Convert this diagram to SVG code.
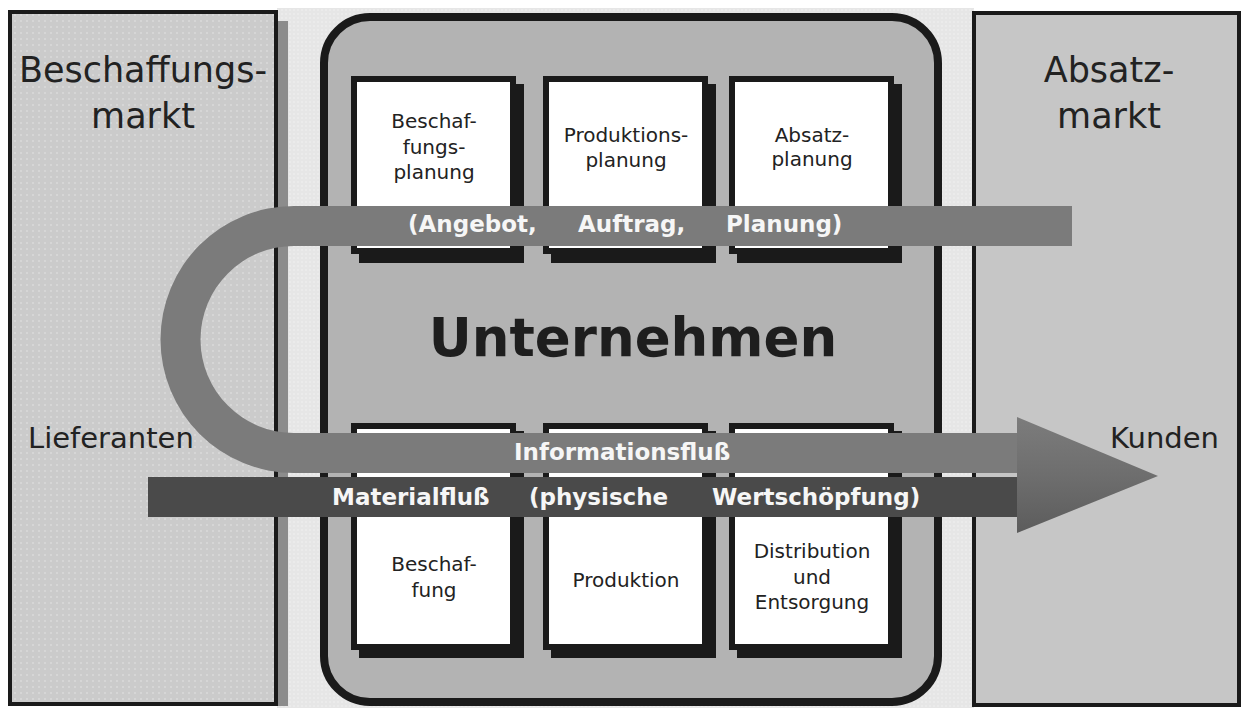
<svg xmlns="http://www.w3.org/2000/svg" width="1243" height="708" viewBox="0 0 1243 708">
  <defs>
    <style>
      .panel { stroke: #1a1a1a; stroke-width: 4; }
      .big { font-family: "DejaVu Sans", Verdana, sans-serif; font-size: 35px; fill: #222; text-anchor: middle; }
      .side { font-family: "DejaVu Sans", Verdana, sans-serif; font-size: 29px; fill: #222; }
      .box { fill: #ffffff; stroke: #1a1a1a; stroke-width: 6; }
      .shadow { fill: #1a1a1a; }
      .btxt { font-family: "DejaVu Sans", Verdana, sans-serif; font-size: 20px; fill: #222; text-anchor: middle; }
      .flow { font-family: "DejaVu Sans", Verdana, sans-serif; font-size: 23px; font-weight: bold; fill: #f6f6f6; }
      .title { font-family: "DejaVu Sans", Verdana, sans-serif; font-size: 53px; font-weight: bold; fill: #1e1e1e; text-anchor: middle; }
    </style>
    <pattern id="dots" width="6" height="6" patternUnits="userSpaceOnUse">
      <rect width="6" height="6" fill="#cbcbcb"/>
      <circle cx="3" cy="3" r="0.8" fill="#e4e4e4"/>
    </pattern>
    <pattern id="lightdots" width="4" height="4" patternUnits="userSpaceOnUse">
      <rect width="4" height="4" fill="#e6e6e6"/>
      <circle cx="2" cy="2" r="0.7" fill="#f6f6f6"/>
    </pattern>
    <linearGradient id="headFill" x1="0" y1="0" x2="0" y2="1">
      <stop offset="0" stop-color="#7c7c7c"/>
      <stop offset="0.5" stop-color="#6e6e6e"/>
      <stop offset="1" stop-color="#5c5c5c"/>
    </linearGradient>
  </defs>

  <!-- page and middle strip -->
  <rect x="0" y="0" width="1243" height="708" fill="#ffffff"/>
  <rect x="277" y="8" width="697" height="700" fill="url(#lightdots)"/>

  <!-- supply market -->
  <g id="beschaffungsmarkt">
    <rect x="278" y="21" width="10" height="685" fill="#8c8c8c"/>
    <rect class="panel" x="10" y="12" width="266" height="692" fill="url(#dots)"/>
    <text class="big" x="143" y="82">Beschaffungs-</text>
    <text class="big" x="143" y="128">markt</text>
    <text class="side" x="28" y="448">Lieferanten</text>
  </g>

  <!-- sales market -->
  <g id="absatzmarkt">
    <rect class="panel" x="974" y="13" width="265" height="692" fill="#c6c6c6"/>
    <text class="big" x="1109" y="82">Absatz-</text>
    <text class="big" x="1109" y="128">markt</text>
    <text class="side" x="1110" y="448">Kunden</text>
  </g>

  <!-- enterprise frame -->
  <g id="unternehmen">
    <rect x="324" y="17" width="614" height="685" rx="46" ry="46" fill="#b3b3b3" stroke="#1a1a1a" stroke-width="8"/>
    <text class="title" x="633" y="356">Unternehmen</text>
  </g>

  <!-- planning functions -->
  <g id="beschaffungsplanung">
    <rect class="shadow" x="359" y="84" width="165" height="179"/>
    <rect class="box" x="354" y="79" width="159" height="172"/>
    <text class="btxt" x="434" y="128">Beschaf-</text>
    <text class="btxt" x="434" y="154">fungs-</text>
    <text class="btxt" x="434" y="179">planung</text>
  </g>
  <g id="produktionsplanung">
    <rect class="shadow" x="551" y="84" width="165" height="179"/>
    <rect class="box" x="546" y="79" width="159" height="172"/>
    <text class="btxt" x="626" y="142">Produktions-</text>
    <text class="btxt" x="626" y="167">planung</text>
  </g>
  <g id="absatzplanung">
    <rect class="shadow" x="737" y="84" width="165" height="179"/>
    <rect class="box" x="732" y="79" width="159" height="172"/>
    <text class="btxt" x="812" y="142">Absatz-</text>
    <text class="btxt" x="812" y="166">planung</text>
  </g>

  <!-- operative functions -->
  <g id="beschaffung">
    <rect class="shadow" x="359" y="431" width="165" height="227"/>
    <rect class="box" x="354" y="426" width="159" height="221"/>
    <text class="btxt" x="434" y="571">Beschaf-</text>
    <text class="btxt" x="434" y="597">fung</text>
  </g>
  <g id="produktion">
    <rect class="shadow" x="551" y="431" width="165" height="227"/>
    <rect class="box" x="546" y="426" width="159" height="221"/>
    <text class="btxt" x="626" y="587">Produktion</text>
  </g>
  <g id="distribution">
    <rect class="shadow" x="737" y="431" width="165" height="227"/>
    <rect class="box" x="732" y="426" width="159" height="221"/>
    <text class="btxt" x="812" y="558">Distribution</text>
    <text class="btxt" x="812" y="584">und</text>
    <text class="btxt" x="812" y="609">Entsorgung</text>
  </g>

  <!-- flows -->
  <g id="connectors">
    <!-- information flow: U-turn band -->
    <path d="M1072,206 H294 A133.5,133.5 0 0 0 294,473 H1018 V433 H294 A93.5,93.5 0 0 1 294,246 H1072 Z" fill="#7b7b7b"/>
    <!-- material flow band -->
    <rect x="148" y="477" width="870" height="40" fill="#4a4a4a"/>
    <!-- common arrowhead -->
    <polygon points="1017,417 1158,476 1017,533" fill="url(#headFill)"/>

    <text class="flow" x="408" y="232">(Angebot,</text>
    <text class="flow" x="578" y="232">Auftrag,</text>
    <text class="flow" x="726" y="232">Planung)</text>
    <text class="flow" x="514" y="460">Informationsfluß</text>
    <text class="flow" x="332" y="505">Materialfluß</text>
    <text class="flow" x="529" y="505">(physische</text>
    <text class="flow" x="712" y="505">Wertschöpfung)</text>
  </g>
</svg>
